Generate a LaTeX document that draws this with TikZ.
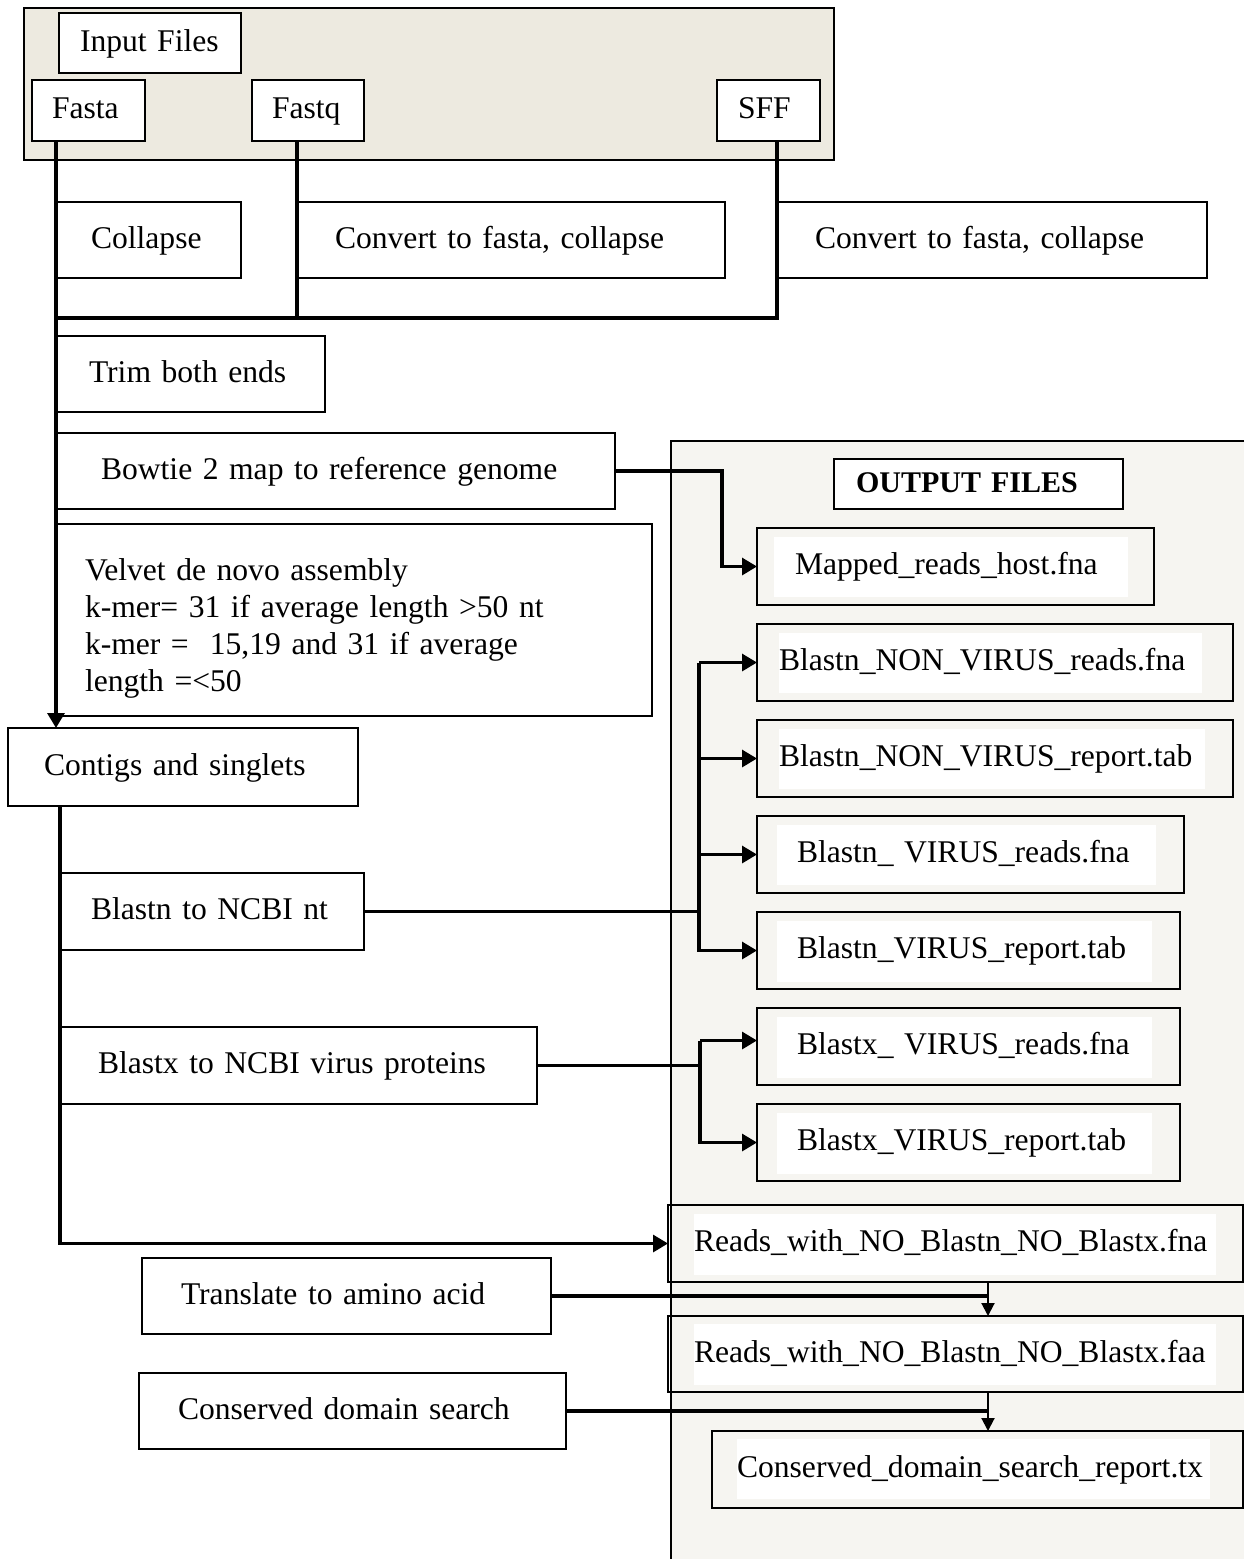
\documentclass[tikz,border=0pt]{standalone}
\usepackage{fontspec}
\setmainfont{Liberation Serif}
\usetikzlibrary{arrows.meta,calc}
\definecolor{inbg}{HTML}{EDEAE0}
\definecolor{outbg}{HTML}{F6F5F1}
\tikzset{
 basebox/.style={draw=black, line width=1pt, rectangle, align=left, font=\fontsize{15.8}{18.5}\selectfont, inner ysep=0pt, outer sep=0pt},
 box/.style={basebox, text height=11pt, text depth=3pt},
 conn/.style={line width=1.6pt},
 arr/.style={conn, -{Triangle[length=7.5pt,width=8.5pt]}},
 tarr/.style={line width=1pt, -{Triangle[length=6.5pt,width=6.5pt]}},
}
\newcommand{\mkbox}[8][box]{%
 \pgfmathsetmacro{\bw}{(#5-#3)*0.5}%
 \pgfmathsetmacro{\bh}{(#6-#4)*0.5}%
 \pgfmathsetmacro{\bp}{#7*0.5}%
 \pgfmathsetmacro{\tw}{\bw-2*\bp}%
 \node[#1,anchor=north west,minimum height=\bh pt,inner xsep=\bp pt,text width=\tw pt] (#2) at (#3,#4) {#8};%
}
\begin{document}
\begin{tikzpicture}[x=0.5pt,y=-0.5pt]
\useasboundingbox (0,0) rectangle (1244,1559);
% panels
\filldraw[fill=inbg, draw=black, line width=0.8pt] (24,8) rectangle (834,160);
\fill[outbg] (671,441) rectangle (1244,1559);
\draw[line width=0.8pt] (1244,441) -- (671,441) -- (671,1559);
% inner white fields of output boxes
\fill[white] (774,537) rectangle (1128,597);
\fill[white] (779,633) rectangle (1202,693);
\fill[white] (779,729) rectangle (1205,789);
\fill[white] (777,825) rectangle (1156,885);
\fill[white] (777,921) rectangle (1152,982);
\fill[white] (777,1017) rectangle (1152,1078);
\fill[white] (777,1113) rectangle (1152,1174);
\fill[white] (694,1214) rectangle (1216,1275);
\fill[white] (694,1324) rectangle (1216,1385);
\fill[white] (737,1439) rectangle (1210,1499);
% input boxes
\mkbox[box,fill=white]{infiles}{59}{13}{241}{73}{21}{Input Files}
\mkbox[box,fill=white]{fasta}{32}{80}{145}{141}{20}{Fasta}
\mkbox[box,fill=white]{fastq}{252}{80}{364}{141}{20}{Fastq}
\mkbox[box,fill=white]{sff}{717}{80}{820}{141}{21}{SFF}
% process boxes
\mkbox{collapse}{56}{202}{241}{278}{35}{Collapse}
\mkbox{conv1}{297}{202}{725}{278}{38}{Convert to fasta, collapse}
\mkbox{conv2}{777}{202}{1207}{278}{38}{Convert to fasta, collapse}
\mkbox{trim}{57}{336}{325}{412}{32}{Trim both ends}
\mkbox{bowtie}{57}{433}{615}{509}{44}{Bowtie 2 map to reference genome}
\mkbox[basebox,text height=19pt]{velvet}{57}{524}{652}{716}{28}{Velvet de novo assembly\\k-mer= 31 if average length >50 nt\\k-mer =~ 15,19 and 31 if average\\length =<50}
\mkbox{contigs}{8}{728}{358}{806}{36}{Contigs and singlets}
\mkbox{blastn}{60}{873}{364}{950}{31}{Blastn to NCBI nt}
\mkbox{blastx}{60}{1027}{537}{1104}{38}{Blastx to NCBI virus proteins}
\mkbox{translate}{142}{1258}{551}{1334}{39}{Translate to amino acid}
\mkbox{consv}{139}{1373}{566}{1449}{39}{Conserved domain search}
% output boxes
\mkbox[box,fill=white,font=\fontsize{15}{18}\selectfont\bfseries]{outfiles}{834}{459}{1123}{509}{22}{OUTPUT FILES}
\mkbox{mapped}{757}{528}{1154}{605}{38}{Mapped\_reads\_host.fna}
\mkbox{nvr}{757}{624}{1233}{701}{22}{Blastn\_NON\_VIRUS\_reads.fna}
\mkbox{nvrep}{757}{720}{1233}{797}{22}{Blastn\_NON\_VIRUS\_report.tab}
\mkbox{vreads}{757}{816}{1184}{893}{40}{Blastn\_ VIRUS\_reads.fna}
\mkbox{vrep}{757}{912}{1180}{989}{40}{Blastn\_VIRUS\_report.tab}
\mkbox{xreads}{757}{1008}{1180}{1085}{40}{Blastx\_ VIRUS\_reads.fna}
\mkbox{xrep}{757}{1104}{1180}{1181}{40}{Blastx\_VIRUS\_report.tab}
\mkbox{rfna}{668}{1205}{1243}{1282}{26}{Reads\_with\_NO\_Blastn\_NO\_Blastx.fna}
\mkbox{rfaa}{668}{1316}{1243}{1392}{26}{Reads\_with\_NO\_Blastn\_NO\_Blastx.faa}
\mkbox{cdrep}{712}{1431}{1243}{1508}{25}{Conserved\_domain\_search\_report.tx}
% connectors: input merge
\coordinate (merge) at (56,318);
\draw[arr] (fasta.south -| collapse.west) -- (contigs.north -| collapse.west);
\draw[conn] (fastq.south -| conv1.west) -- (conv1.west |- merge);
\draw[conn] (sff.south -| conv2.west) |- (merge);
% bowtie
\draw[arr] (bowtie.east) -| ($(mapped.west)+(-35,0)$) -- (mapped.west);
% blastn
\coordinate (nb) at ($(nvr.west)+(-58,0)$);
\draw[conn] (blastn.east) -- (blastn.east -| nb);
\draw[arr] (nb) -- (nvr.west);
\draw[arr] (nb) |- (vrep.west);
\draw[arr] (nb |- nvrep.west) -- (nvrep.west);
\draw[arr] (nb |- vreads.west) -- (vreads.west);
% blastx
\coordinate (xb) at ($(xreads.west)+(-57,-6)$);
\draw[conn] (blastx.east) -- (blastx.east -| xb);
\draw[arr] (xb) -- (xb -| xreads.west);
\draw[arr] (xb) |- (xrep.west);
% contigs to unmatched reads
\draw[arr] (contigs.south -| blastn.west) |- (rfna.west);
% translate / conserved
\coordinate (tc) at ($(rfna.south west)+(320,0)$);
\draw[line width=2pt] (translate.east) -- (translate.east -| tc);
\draw[tarr] (tc) -- (tc |- rfaa.north);
\coordinate (tc2) at ($(rfaa.south west)+(320,0)$);
\draw[line width=2pt] (consv.east) -- (consv.east -| tc2);
\draw[tarr] (tc2) -- (tc2 |- cdrep.north);
\end{tikzpicture}
\end{document}
